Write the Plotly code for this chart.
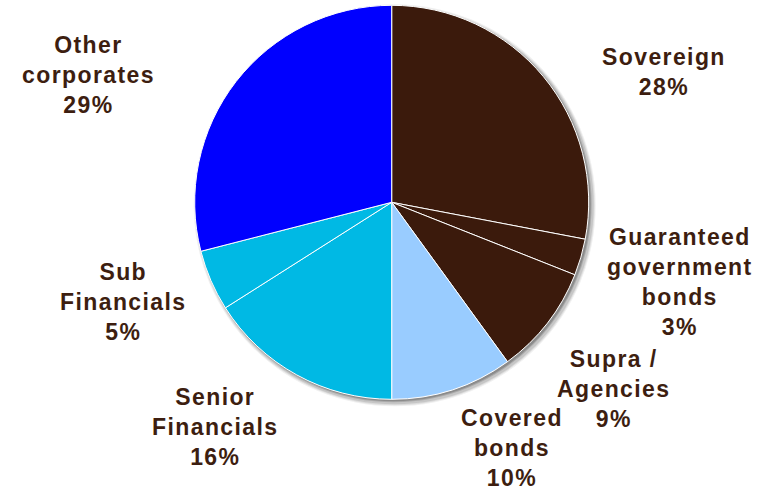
import plotly.graph_objects as go

# Portfolio breakdown by asset class (share of total, %)
categories = [
    "Sovereign",
    "Guaranteed government bonds",
    "Supra / Agencies",
    "Covered bonds",
    "Senior Financials",
    "Sub Financials",
    "Other corporates",
]
shares = [28, 3, 9, 10, 16, 5, 29]

# Text as it is broken over lines in the callouts
label_lines = [
    ["Sovereign"],
    ["Guaranteed", "government", "bonds"],
    ["Supra /", "Agencies"],
    ["Covered", "bonds"],
    ["Senior", "Financials"],
    ["Sub", "Financials"],
    ["Other", "corporates"],
]

BROWN = "#3b1a0c"
slice_colors = [BROWN, BROWN, BROWN, "#99ccff", "#00b9e4", "#00b9e4", "#0000ff"]
TEXT = "#3d1e10"

W, H = 773, 491
cx, cy, r = 391.7, 202.3, 197.0

# callout centres in pixels (x, y from top)
label_pos = [
    (663.7, 72.0),
    (679.5, 282.0),
    (613.0, 388.5),
    (512.0, 448.0),
    (215.0, 426.5),
    (122.5, 302.0),
    (88.0, 75.0),
]

fig = go.Figure()

fig.add_trace(go.Pie(
    labels=categories,
    values=shares,
    sort=False,
    direction="clockwise",
    rotation=0,
    textinfo="none",
    hoverinfo="label+percent",
    marker=dict(colors=slice_colors, line=dict(color="white", width=1)),
    domain=dict(x=[(cx - r) / W, (cx + r) / W],
                y=[(H - (cy + r)) / H, (H - (cy - r)) / H]),
    showlegend=False,
))

# soft drop shadow behind the disc
shadow = []
for dx, dy, grow, op in [(3, 3, 4, 0.06), (3, 3, 3, 0.08), (3, 3, 2, 0.10),
                         (2, 2, 1, 0.14), (2, 2, 0, 0.18)]:
    shadow.append(dict(
        type="circle", xref="paper", yref="paper", layer="below",
        x0=(cx - r - grow + dx) / W, x1=(cx + r + grow + dx) / W,
        y0=(H - (cy + r + grow + dy)) / H, y1=(H - (cy - r - grow + dy)) / H,
        fillcolor="black", opacity=op, line=dict(width=0),
    ))


def spaced(line):
    return f'<span style="letter-spacing:1.4px">{line}</span>'


annotations = []
for lines, val, (px, py) in zip(label_lines, shares, label_pos):
    text = "<br>".join(spaced(s) for s in lines + [f"{val}%"])
    annotations.append(dict(
        x=px / W, y=1 - py / H, xref="paper", yref="paper",
        xanchor="center", yanchor="middle", align="center",
        text=text, showarrow=False,
        font=dict(family="Liberation Sans, Arial, sans-serif", size=23,
                  color=TEXT, weight="bold"),
    ))

fig.update_layout(
    width=W, height=H,
    margin=dict(l=0, r=0, t=0, b=0),
    paper_bgcolor="white", plot_bgcolor="white",
    shapes=shadow, annotations=annotations,
)

fig.write_html("out.html")
